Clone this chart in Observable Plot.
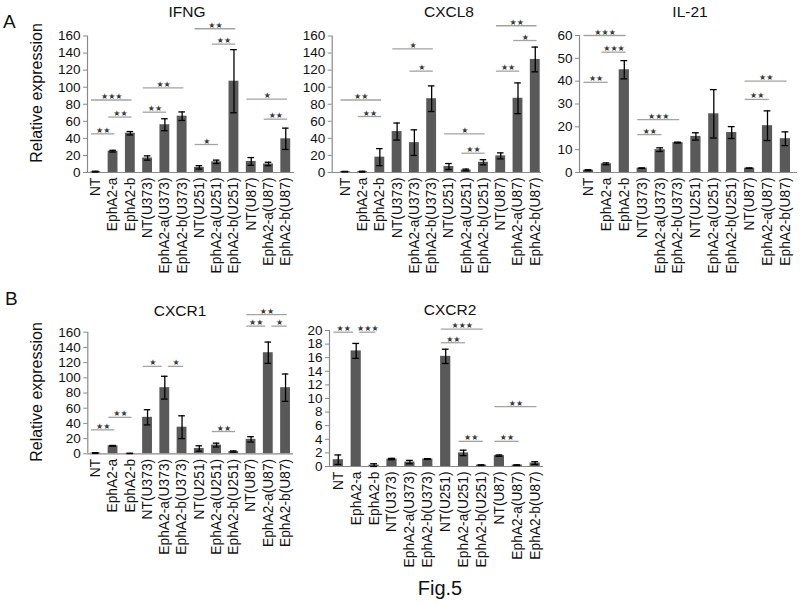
<!DOCTYPE html>
<html><head><meta charset="utf-8">
<script src="https://cdn.jsdelivr.net/npm/d3@7"></script>
<script src="https://cdn.jsdelivr.net/npm/@observablehq/plot@0.6"></script>
<style>
body{margin:0;background:#fff;}
#fig{position:relative;width:800px;height:605px;overflow:hidden;background:#fff;}
#fig > svg{position:absolute;overflow:visible;}
</style></head><body><div id="fig"></div>
<script>
// ---- data ----
const categories = ["NT","EphA2-a","EphA2-b","NT(U373)","EphA2-a(U373)","EphA2-b(U373)","NT(U251)","EphA2-a(U251)","EphA2-b(U251)","NT(U87)","EphA2-a(U87)","EphA2-b(U87)"];

const ifngMean  = [1, 25, 46, 17, 56, 66, 6, 12.5, 107, 13, 10, 39.5];
const ifngErr   = [0.5, 1, 2, 2.5, 7, 5, 2, 2, 37, 4.5, 2, 12.5];
const cxcl8Mean = [1, 1, 18, 48, 35, 86.5, 7, 3, 12, 19.5, 87, 132.5];
const cxcl8Err  = [0.3, 0.5, 10, 10, 15, 15, 3.5, 1, 3, 3.5, 18, 14.5];
const il21Mean  = [1, 3.8, 45, 1.9, 10, 13.1, 15.8, 25.7, 17.5, 1.9, 20.5, 14.8];
const il21Err   = [0.2, 0.4, 4, 0.1, 0.8, 0.2, 1.6, 10.6, 2.6, 0.1, 6.5, 3];
const cxcr1Mean = [1, 10.5, 0.5, 48, 87, 35, 7, 11.5, 3, 19, 133, 87];
const cxcr1Err  = [0.5, 0.5, 0.2, 10, 15, 15, 3.5, 2.5, 0.8, 3.5, 14, 18];
const cxcr2Mean = [1, 17, 0.2, 1.1, 0.65, 1.1, 16.2, 2.0, 0.2, 1.6, 0.2, 0.5];
const cxcr2Err  = [0.7, 1.1, 0.2, 0.1, 0.25, 0.05, 1.05, 0.4, 0.05, 0.1, 0.05, 0.2];

// significance brackets: [from, to, height, label]
const ifngSig  = [[0,1,45.3,"**"],[0,2,85,"***"],[1,2,65,"**"],[3,4,70.7,"**"],[3,5,99.3,"**"],[6,7,32.8,"*"],[7,8,150.5,"**"],[6,8,168.5,"**"],[9,11,86,"*"],[10,11,62.5,"**"]];
const cxcl8Sig = [[0,2,85,"**"],[1,2,65.6,"**"],[3,5,145,"*"],[4,5,118.8,"*"],[6,8,45.3,"*"],[7,8,22.6,"**"],[9,10,118.8,"**"],[9,11,172,"**"],[10,11,154.7,"*"]];
const il21Sig  = [[0,2,60,"***"],[1,2,52.7,"***"],[0,1,39.5,"**"],[3,4,16.6,"**"],[3,5,23.2,"***"],[9,10,32,"**"],[9,11,40,"**"]];
const cxcr1Sig = [[0,1,31.5,"**"],[1,2,48,"**"],[3,4,115,"*"],[4,5,115,"*"],[7,8,29.3,"**"],[9,10,168,"**"],[9,11,183,"**"],[10,11,168,"*"]];
const cxcr2Sig = [[0,1,19.75,"**"],[1,2,19.75,"***"],[6,8,20.2,"***"],[6,7,18.2,"**"],[7,8,3.7,"**"],[9,10,3.7,"**"],[9,11,8.8,"**"]];

const ticks160 = [0,20,40,60,80,100,120,140,160];
const ticks60  = [0,10,20,30,40,50,60];
const ticks20  = [0,2,4,6,8,10,12,14,16,18,20];

// ---- layout / style ----
const FONT = "'Liberation Sans', Arial, sans-serif";
const AXIS = "#8a8a8a", BAR = "#595959", BRK = "#a3a3a3", STAR = "#3a3a3a", TXT = "#111";

const panels = [
  {title:"IFNG",  mean:ifngMean,  err:ifngErr,  sig:ifngSig,  ticks:ticks160, yMax:160,
   left:0,   top:0,   w:300, h:280, L:87,    R:294, c0:95.3,  step:17.27, yTop:35.5,  yBase:172, tx:187, ty:17},
  {title:"CXCL8", mean:cxcl8Mean, err:cxcl8Err, sig:cxcl8Sig, ticks:ticks160, yMax:160,
   left:290, top:0,   w:260, h:280, L:331.7, R:541, c0:344.8, step:17.27, yTop:35.5,  yBase:172, tx:449, ty:17},
  {title:"IL-21", mean:il21Mean,  err:il21Err,  sig:il21Sig,  ticks:ticks60,  yMax:60,
   left:540, top:0,   w:260, h:280, L:579,   R:797, c0:588,   step:17.9,  yTop:35,    yBase:172, tx:690, ty:17},
  {title:"CXCR1", mean:cxcr1Mean, err:cxcr1Err, sig:cxcr1Sig, ticks:ticks160, yMax:160,
   left:0,   top:290, w:300, h:290, L:87.3,  R:293, c0:95.3,  step:17.25, yTop:331.7, yBase:453.3, tx:180, ty:316},
  {title:"CXCR2", mean:cxcr2Mean, err:cxcr2Err, sig:cxcr2Sig, ticks:ticks20,  yMax:20,
   left:290, top:290, w:260, h:290, L:329,   R:543, c0:337.8, step:17.9,  yTop:330,   yBase:466, tx:450, ty:315}
];

const fig = document.getElementById("fig");

function makePanel(p) {
  const rows = categories.map((c, i) => ({i, cat: c, mean: p.mean[i], err: p.err[i]}));
  const brs = p.sig.map(([a, b, hgt, lab]) => {
    let x1 = a - 0.25, x2 = b + 0.1;
    for (const [a2, b2, h2] of p.sig) {
      if (h2 === hgt && a2 === b) x2 = b - 0.15;
      if (h2 === hgt && b2 === a) x1 = a + 0.2;
    }
    return {x1, x2, mid: (x1 + x2) / 2, h: hgt, label: "★".repeat(lab.length)};
  });
  const xDomain = [(p.L - p.c0) / p.step, (p.R - p.c0) / p.step];
  const bw = 0.57, cap = 0.19;
  const svg = Plot.plot({
    width: p.w, height: p.h,
    marginLeft: p.L - p.left, marginRight: p.left + p.w - p.R,
    marginTop: p.yTop - p.top, marginBottom: p.top + p.h - p.yBase,
    style: {background: "transparent", fontFamily: FONT, overflow: "visible"},
    x: {type: "linear", domain: xDomain, axis: null},
    y: {domain: [0, p.yMax], axis: null},
    marks: [
      Plot.rectY(rows, {x1: d => d.i - bw/2, x2: d => d.i + bw/2, y1: 0, y2: "mean", fill: BAR}),
      Plot.ruleY([0], {stroke: AXIS, strokeWidth: 1.2}),
      Plot.ruleX([xDomain[0]], {y1: 0, y2: p.yMax, stroke: AXIS, strokeWidth: 1.2}),
      Plot.axisY({ticks: p.ticks, tickSize: 4, tickPadding: 3, fontSize: 13.5, stroke: AXIS, fill: TXT, tickFormat: d => String(d)}),
      Plot.ruleX(rows, {x: "i", y1: d => d.mean - d.err, y2: d => d.mean + d.err, stroke: "#000", strokeWidth: 1.3}),
      Plot.ruleY(rows, {x1: d => d.i - cap, x2: d => d.i + cap, y: d => d.mean + d.err, stroke: "#000", strokeWidth: 1.3}),
      Plot.ruleY(rows, {x1: d => d.i - cap, x2: d => d.i + cap, y: d => d.mean - d.err, stroke: "#000", strokeWidth: 1.3}),
      Plot.ruleY(brs, {x1: "x1", x2: "x2", y: "h", stroke: BRK, strokeWidth: 1.3}),
      Plot.text(brs, {x: "mid", y: "h", text: "label", fontFamily: "'DejaVu Sans'", fontSize: 8, fill: STAR, lineAnchor: "bottom", dy: -1}),
      Plot.text(rows, {x: "i", text: "cat", frameAnchor: "bottom", rotate: -90, textAnchor: "end", lineAnchor: "middle", dy: 5, fontSize: 13.8, fill: TXT})
    ]
  });
  svg.style.left = p.left + "px";
  svg.style.top = p.top + "px";
  fig.appendChild(svg);
}
panels.forEach(makePanel);

// ---- text annotations ----
const ov = d3.select(fig).append("svg")
  .attr("width", 800).attr("height", 605)
  .style("left", "0px").style("top", "0px").style("pointer-events", "none")
  .attr("font-family", FONT).attr("fill", TXT);
ov.append("text").attr("x", 3).attr("y", 28).attr("font-size", 19).text("A");
ov.append("text").attr("x", 5).attr("y", 305).attr("font-size", 19).text("B");
panels.forEach(p => ov.append("text").attr("x", p.tx).attr("y", p.ty).attr("font-size", 15.5).attr("text-anchor", "middle").text(p.title));
[[36, 93], [36, 392]].forEach(([x, y]) =>
  ov.append("text").attr("transform", `translate(${x},${y}) rotate(-90)`).attr("font-size", 16)
    .attr("text-anchor", "middle").attr("dominant-baseline", "central").text("Relative expression"));
ov.append("text").attr("x", 440).attr("y", 595).attr("font-size", 20).attr("text-anchor", "middle").text("Fig.5");
</script></body></html>
